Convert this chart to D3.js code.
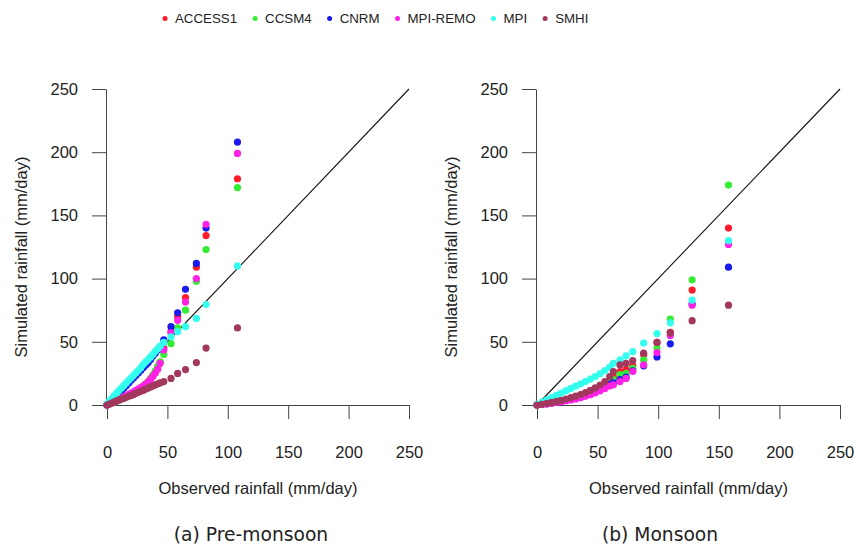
<!DOCTYPE html>
<html><head><meta charset="utf-8">
<script src="https://cdn.jsdelivr.net/npm/d3@7"></script>
<style>body{margin:0;background:#fff}svg{display:block}</style>
</head><body><svg id="c" width="856" height="546"></svg>
<script>
// ---------- data ----------
const models = ["ACCESS1", "CCSM4", "CNRM", "MPI-REMO", "MPI", "SMHI"];
const colors = ["#ff1a2a", "#33ee33", "#1a1aee", "#ff22e6", "#33ffee", "#a3385e"];
const ticks = [0, 50, 100, 150, 200, 250];
const panelTitles = ["(a) Pre-monsoon", "(b) Monsoon"];
const xTitle = "Observed rainfall (mm/day)";
const yTitle = "Simulated rainfall (mm/day)";

// Pre-monsoon quantiles (observed)
const obsPre = [0,2,4,6,8,10,12,14,16,18,20,22,24,26,28,30,32,34,36,38,40,42,44,47,53,58.5,65,74,82,108];
const preACCESS1 = [0,0.9,1.7,2.5,3.3,4.2,5,5.9,6.8,7.8,8.8,9.8,11,12.2,13.5,15,16.6,18.5,20.8,23.5,26.5,30,34,45,58,70,85,109,134,179];
const preCCSM4   = [0,0.8,1.6,2.4,3.2,4,4.8,5.6,6.5,7.4,8.3,9.3,10.4,11.6,13,14.5,16.2,18,20.5,23.5,27,30.5,34,40,48.5,61,75,98,123,172];
const preCNRM    = [0,1.5,3.5,5.5,7.5,9.5,11.5,13.5,15.5,17.5,19.5,21.5,23.5,25.5,27.5,29.5,31.5,33.5,36,38.5,41,43.5,46,51.6,62,73,91.5,112,140,208];
const preMPIREMO = [0,0.8,1.6,2.5,3.4,4.4,5.4,6.4,7.4,8.4,9.4,10.4,11.5,12.6,13.8,15,16.4,18,20,22.5,25.3,28.5,33,43.6,57,67,81.5,100,143,199];
const preMPI     = [1,3,5,7.5,9.5,11.5,13.5,15.5,17.5,19.5,21.5,23.5,25.5,27.5,29.5,32,34,36,38,40,42.5,44.5,46.5,49.5,54,58,62,68.5,79.5,110];
const preSMHI    = [0,0.8,1.6,2.4,3.2,4,4.7,5.4,6.1,6.9,7.6,8.4,9.2,10,10.8,11.6,12.5,13.4,14.3,15.2,16,16.8,17.5,18.5,21,25,28,33.6,45,61];

// Monsoon quantiles (observed)
const obsMon = [0,4,8,12,16,20,24,28,32,36,40,44,48,52,56,60,63,68.5,73.5,79,88,99,110,128,158];
const monACCESS1 = [0,0.55,1.15,1.8,2.6,3.4,4.3,5.3,6.4,7.6,9,10.6,12.4,14.4,16.7,19.5,22.5,26.5,28,31,40,49.5,57.5,91,140];
const monCCSM4   = [0,0.5,1.1,1.7,2.5,3.3,4.1,5,6,7.2,8.5,10,11.8,13.8,16,18.5,20,24,25,29,35.7,45,68,99,174];
const monCNRM    = [0,0.5,1,1.6,2.3,3,3.8,4.6,5.5,6.6,7.8,9.2,10.8,12.5,14.5,16.5,17.5,20,22,27,31,38,48.4,80,109];
const monMPIREMO = [0,0.4,0.9,1.4,2,2.6,3.3,4,4.8,5.8,6.9,8.2,9.6,11.2,13,15,16,18.5,21,26.5,31.7,41.5,55,79,127];
const monMPI     = [0.5,2.2,4,5.8,7.6,9.5,11.3,13.1,15,16.8,18.6,20.5,22.5,24.8,27.3,30,33,35.7,38.9,42.3,49,56.5,65,83,130];
const monSMHI    = [0,0.6,1.3,2,2.8,3.7,4.7,5.8,7,8.3,9.8,11.5,13.5,15.8,18.5,22.5,26.5,31.7,33,35.2,41,49.5,57,66.7,79];

const preSeries = [preACCESS1, preCCSM4, preCNRM, preMPIREMO, preMPI, preSMHI];
const monSeries = [monACCESS1, monCCSM4, monCNRM, monMPIREMO, monMPI, monSMHI];

// ---------- drawing ----------
const svg = d3.select("#c");
svg.append("rect").attr("width", 856).attr("height", 546).attr("fill", "#fff");
const FONT = "'Liberation Sans', Arial, Helvetica, sans-serif";
const axisColor = "#444";
const textColor = "#222";

function drawPanel(cfg, obs, series) {
  const x = d3.scaleLinear().domain([0, 250]).range([cfg.x0, cfg.x1]);
  const y = d3.scaleLinear().domain([0, 250]).range([cfg.y0, cfg.y1]);
  const g = svg.append("g");

  // axes (R style: line from first to last tick, ticks outward)
  const gx = g.append("g").attr("transform", `translate(0,${cfg.y0})`)
    .call(d3.axisBottom(x).tickValues(ticks).tickSize(14).tickPadding(33).tickSizeOuter(0));
  const gy = g.append("g").attr("transform", `translate(${cfg.x0 - 1},0)`)
    .call(d3.axisLeft(y).tickValues(ticks).tickSize(14).tickPadding(14).tickSizeOuter(0));
  [gx, gy].forEach(a => {
    a.select(".domain").attr("stroke", axisColor).attr("stroke-width", 1);
    a.selectAll(".tick line").attr("stroke", axisColor).attr("stroke-width", 1);
    a.selectAll(".tick text").attr("fill", textColor).style("font-family", FONT).style("font-size", "16.5px");
  });
  gx.selectAll(".tick text").attr("dy", "0.35em");

  // 1:1 line
  g.append("line")
    .attr("x1", x(0)).attr("y1", y(0)).attr("x2", x(250)).attr("y2", y(250))
    .attr("stroke", "#111").attr("stroke-width", 1.1);

  // points
  series.forEach((vals, i) => {
    g.append("g").selectAll("circle").data(vals).enter().append("circle")
      .attr("cx", (d, j) => x(obs[j])).attr("cy", d => y(d))
      .attr("r", 3.6).attr("fill", colors[i]);
  });

  // axis titles
  g.append("text").attr("x", (cfg.x0 + cfg.x1) / 2).attr("y", 494)
    .attr("text-anchor", "middle").attr("fill", textColor)
    .style("font-family", FONT).style("font-size", "16.5px").text(xTitle);
  g.append("text").attr("transform", `translate(${cfg.yTitleX},${(cfg.y0 + cfg.y1) / 2 + 10}) rotate(-90)`)
    .attr("text-anchor", "middle").attr("fill", textColor)
    .style("font-family", FONT).style("font-size", "16.5px").text(yTitle);

  // panel title
  g.append("text").attr("x", cfg.titleX).attr("y", 541)
    .attr("text-anchor", "middle").attr("fill", textColor)
    .style("font-family", "'DejaVu Sans', Verdana, sans-serif").style("font-size", "18.7px").text(cfg.title);
}

drawPanel({x0: 107, x1: 409, y0: 405, y1: 89, yTitleX: 27, titleX: 251, title: panelTitles[0]}, obsPre, preSeries);
drawPanel({x0: 537, x1: 840, y0: 405, y1: 89, yTitleX: 457, titleX: 660, title: panelTitles[1]}, obsMon, monSeries);

// legend
const leg = svg.append("g");
let lx = 165;
models.forEach((m, i) => {
  leg.append("circle").attr("cx", lx).attr("cy", 18.5).attr("r", 2.5).attr("fill", colors[i]);
  const t = leg.append("text").attr("x", lx + 10).attr("y", 18.5).attr("dy", "0.35em")
    .attr("fill", textColor).style("font-family", FONT).style("font-size", "13.3px").text(m);
  lx = lx + 10 + t.node().getComputedTextLength() + 18;
});
</script>
</body></html>
